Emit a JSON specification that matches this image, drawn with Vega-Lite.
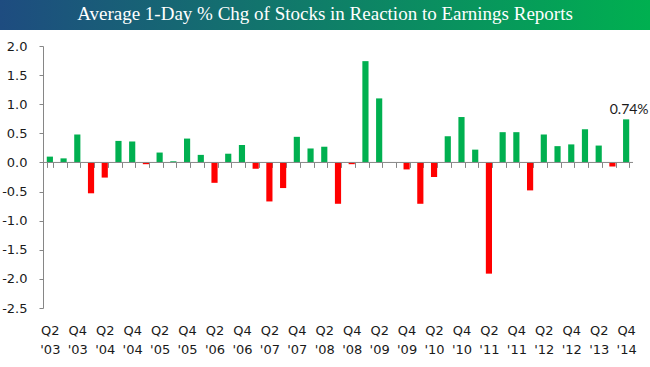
{
  "$schema": "https://vega.github.io/schema/vega-lite/v6.json",
  "padding": 0,
  "background": "white",
  "spacing": 10,
  "config": {"view": {"stroke": null}, "font": "DejaVu Sans"},
  "datasets": {
    "bars": [
      {"q": "Q2 '03", "v": 0.10}, {"q": "Q3 '03", "v": 0.07}, {"q": "Q4 '03", "v": 0.48},
      {"q": "Q1 '04", "v": -0.53}, {"q": "Q2 '04", "v": -0.26}, {"q": "Q3 '04", "v": 0.37}, {"q": "Q4 '04", "v": 0.36},
      {"q": "Q1 '05", "v": -0.03}, {"q": "Q2 '05", "v": 0.17}, {"q": "Q3 '05", "v": 0.02}, {"q": "Q4 '05", "v": 0.41},
      {"q": "Q1 '06", "v": 0.13}, {"q": "Q2 '06", "v": -0.35}, {"q": "Q3 '06", "v": 0.15}, {"q": "Q4 '06", "v": 0.30},
      {"q": "Q1 '07", "v": -0.11}, {"q": "Q2 '07", "v": -0.67}, {"q": "Q3 '07", "v": -0.44}, {"q": "Q4 '07", "v": 0.44},
      {"q": "Q1 '08", "v": 0.24}, {"q": "Q2 '08", "v": 0.27}, {"q": "Q3 '08", "v": -0.71}, {"q": "Q4 '08", "v": -0.03},
      {"q": "Q1 '09", "v": 1.74}, {"q": "Q2 '09", "v": 1.10}, {"q": "Q3 '09", "v": 0.00}, {"q": "Q4 '09", "v": -0.12},
      {"q": "Q1 '10", "v": -0.71}, {"q": "Q2 '10", "v": -0.25}, {"q": "Q3 '10", "v": 0.45}, {"q": "Q4 '10", "v": 0.78},
      {"q": "Q1 '11", "v": 0.22}, {"q": "Q2 '11", "v": -1.91}, {"q": "Q3 '11", "v": 0.52}, {"q": "Q4 '11", "v": 0.52},
      {"q": "Q1 '12", "v": -0.48}, {"q": "Q2 '12", "v": 0.48}, {"q": "Q3 '12", "v": 0.28}, {"q": "Q4 '12", "v": 0.31},
      {"q": "Q1 '13", "v": 0.57}, {"q": "Q2 '13", "v": 0.29}, {"q": "Q3 '13", "v": -0.07}, {"q": "Q4 '14", "v": 0.74}
    ],
    "title": [{"t": "Average 1-Day % Chg of Stocks in Reaction to Earnings Reports"}]
  },
  "vconcat": [
    {
      "width": 650,
      "height": 30,
      "data": {"name": "title"},
      "layer": [
        {
          "mark": {"type": "rect", "color": {"gradient": "linear", "x1": 0, "y1": 0, "x2": 1, "y2": 0, "stops": [{"offset": 0, "color": "#1E4C80"}, {"offset": 1, "color": "#00B050"}]}},
          "encoding": {}
        },
        {
          "mark": {"type": "text", "font": "Liberation Serif", "fontSize": 19, "color": "white", "align": "center", "baseline": "middle", "dy": -1},
          "encoding": {"text": {"field": "t"}}
        }
      ]
    },
    {
      "width": 650,
      "height": 262,
      "data": {"name": "bars"},
      "encoding": {
        "x": {
          "field": "q", "type": "ordinal", "sort": null,
          "scale": {
            "domain": ["_a", "_b", "_c", "Q2 '03", "Q3 '03", "Q4 '03", "Q1 '04", "Q2 '04", "Q3 '04", "Q4 '04", "Q1 '05", "Q2 '05", "Q3 '05", "Q4 '05", "Q1 '06", "Q2 '06", "Q3 '06", "Q4 '06", "Q1 '07", "Q2 '07", "Q3 '07", "Q4 '07", "Q1 '08", "Q2 '08", "Q3 '08", "Q4 '08", "Q1 '09", "Q2 '09", "Q3 '09", "Q4 '09", "Q1 '10", "Q2 '10", "Q3 '10", "Q4 '10", "Q1 '11", "Q2 '11", "Q3 '11", "Q4 '11", "Q1 '12", "Q2 '12", "Q3 '12", "Q4 '12", "Q1 '13", "Q2 '13", "Q3 '13", "Q4 '14"],
            "paddingInner": 0.55, "paddingOuter": 0.9615, "align": 0.2127
          },
          "axis": {
            "title": null, "labelAngle": 0, "tickBand": "extent", "offset": -145.6, "domain": false,
            "values": ["Q2 '03", "Q3 '03", "Q4 '03", "Q1 '04", "Q2 '04", "Q3 '04", "Q4 '04", "Q1 '05", "Q2 '05", "Q3 '05", "Q4 '05", "Q1 '06", "Q2 '06", "Q3 '06", "Q4 '06", "Q1 '07", "Q2 '07", "Q3 '07", "Q4 '07", "Q1 '08", "Q2 '08", "Q3 '08", "Q4 '08", "Q1 '09", "Q2 '09", "Q3 '09", "Q4 '09", "Q1 '10", "Q2 '10", "Q3 '10", "Q4 '10", "Q1 '11", "Q2 '11", "Q3 '11", "Q4 '11", "Q1 '12", "Q2 '12", "Q3 '12", "Q4 '12", "Q1 '13", "Q2 '13", "Q3 '13", "Q4 '14"],
            "tickColor": "#868686", "tickSize": 5,
            "labelPadding": 157, "labelFontSize": 13, "labelFont": "DejaVu Sans", "labelColor": "#1a1a1a",
            "labelLineHeight": 19, "labelBaseline": "top", "labelOverlap": false,
            "labelExpr": "indexof(datum.label,'Q1')==0 || indexof(datum.label,'Q3')==0 ? '' : split(datum.label,' ')"
          }
        },
        "y": {
          "field": "v", "type": "quantitative",
          "scale": {"domain": [-2.5, 2], "nice": false},
          "axis": {
            "title": null, "grid": false, "offset": -43, "values": [-2.5, -2, -1.5, -1, -0.5, 0, 0.5, 1, 1.5, 2],
            "labelExpr": "replace(format(datum.value,'.1f'),'\u2212','-')",
            "domainColor": "#868686", "tickColor": "#868686", "tickSize": 4, "labelPadding": 12,
            "labelFontSize": 13, "labelFont": "DejaVu Sans", "labelColor": "#1a1a1a"
          }
        }
      },
      "layer": [
        {
          "mark": {"type": "bar"},
          "encoding": {
            "color": {"condition": {"test": "datum.v < 0", "value": "#FF0000"}, "value": "#00B050"}
          }
        },
        {
          "data": {"values": [{"a": "Q2 '03", "b": "Q4 '14", "z": 0}]},
          "mark": {"type": "rule", "color": "#868686", "strokeWidth": 1},
          "encoding": {
            "x": {"field": "a", "type": "ordinal", "bandPosition": -0.611},
            "x2": {"field": "b", "bandPosition": 1.611},
            "y": {"field": "z", "type": "quantitative"}
          }
        },
        {
          "transform": [
            {"filter": {"field": "q", "equal": "Q4 '14"}},
            {"calculate": "format(datum.v,'.2f') + '%'", "as": "lbl"}
          ],
          "mark": {"type": "text", "font": "Lato", "fontSize": 14, "color": "#1a1a1a", "baseline": "bottom", "dy": -2, "dx": 3},
          "encoding": {"text": {"field": "lbl"}}
        }
      ]
    }
  ]
}
